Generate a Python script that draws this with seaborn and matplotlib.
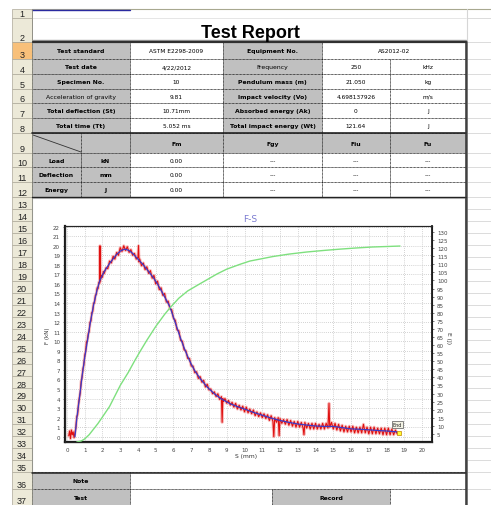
import numpy as np
import pandas as pd
import matplotlib
matplotlib.use("Agg")
import matplotlib.pyplot as plt
import seaborn as sns
from matplotlib.patches import Rectangle

# ---------------- data ----------------
# noisy measured force (red)
red_S = [0.10, 0.15, 0.20, 0.25, 0.30, 0.35, 0.40, 0.45, 0.50, 0.55, 0.60, 0.65, 0.70, 0.75, 0.80,
         0.85, 0.90, 0.95, 1.00, 1.05, 1.10, 1.15, 1.20, 1.25, 1.30, 1.35, 1.40, 1.45, 1.50, 1.55,
         1.60, 1.65, 1.70, 1.75, 1.80, 1.85, 1.86, 1.87, 1.95, 2.00, 2.05, 2.10, 2.20, 2.30, 2.40,
         2.50, 2.60, 2.70, 2.80, 2.90, 3.00, 3.10, 3.20, 3.30, 3.40, 3.50, 3.60, 3.70, 3.80, 3.90,
         4.00, 4.03, 4.06, 4.10, 4.20, 4.30, 4.40, 4.50, 4.60, 4.70, 4.80, 4.90, 5.00, 5.10, 5.20,
         5.30, 5.40, 5.50, 5.60, 5.70, 5.80, 5.90, 6.00, 6.10, 6.20, 6.30, 6.40, 6.50, 6.60, 6.70,
         6.80, 6.90, 7.00, 7.10, 7.20, 7.30, 7.40, 7.50, 7.60, 7.70, 7.80, 7.90, 8.00, 8.10, 8.20,
         8.30, 8.40, 8.50, 8.60, 8.70, 8.74, 8.78, 8.80, 8.90, 9.00, 9.10, 9.20, 9.30, 9.40, 9.50,
         9.60, 9.70, 9.80, 9.90, 10.00, 10.10, 10.20, 10.30, 10.40, 10.50, 10.60, 10.70, 10.80, 10.90,
         11.00, 11.10, 11.20, 11.30, 11.40, 11.50, 11.60, 11.65, 11.70, 11.80, 11.90, 11.95, 12.00,
         12.10, 12.20, 12.30, 12.40, 12.50, 12.60, 12.70, 12.80, 12.90, 13.00, 13.10, 13.20, 13.30,
         13.35, 13.40, 13.50, 13.60, 13.70, 13.80, 13.90, 14.00, 14.10, 14.20, 14.30, 14.40, 14.50,
         14.60, 14.70, 14.76, 14.80, 14.90, 15.00, 15.10, 15.20, 15.30, 15.40, 15.50, 15.60, 15.70,
         15.80, 15.90, 16.00, 16.10, 16.20, 16.30, 16.40, 16.50, 16.60, 16.70, 16.80, 16.90, 17.00,
         17.10, 17.20, 17.30, 17.40, 17.50, 17.60, 17.70, 17.80, 17.90, 18.00, 18.10, 18.20, 18.30,
         18.40, 18.50, 18.60]
red_F = [0.1, 0.6, -0.2, 0.7, 0.2, 0.5, -0.1, 0.4, 0.9, 2.1, 2.3, 3.4, 4.1, 4.6, 5.8,
         6.2, 7.1, 7.5, 8.5, 8.9, 9.9, 10.1, 10.8, 11.0, 12.0, 12.1, 13.0, 13.1, 14.0, 14.0,
         14.8, 14.9, 15.6, 15.5, 16.2, 16.1, 20.0, 16.3, 16.9, 16.7, 17.3, 17.1, 17.7, 17.6, 18.4,
         18.2, 18.9, 18.6, 19.3, 19.0, 19.8, 19.4, 20.0, 19.5, 19.9, 19.3, 19.6, 19.0, 19.2, 18.6,
         18.8, 20.0, 18.3, 18.6, 17.9, 18.2, 17.5, 17.8, 17.1, 17.4, 16.6, 16.9, 16.0, 16.3, 15.4,
         15.6, 14.8, 15.0, 14.1, 14.2, 13.4, 13.3, 12.4, 12.2, 11.2, 11.1, 10.1, 10.0, 9.1, 9.0,
         8.2, 8.2, 7.4, 7.4, 6.7, 6.8, 6.1, 6.3, 5.7, 5.9, 5.2, 5.5, 4.9, 5.0, 4.5,
         4.7, 4.2, 4.5, 3.9, 4.2, 1.5, 4.0, 3.7, 4.0, 3.5, 3.8, 3.3, 3.6, 3.1, 3.5,
         2.9, 3.3, 2.8, 3.2, 2.6, 3.1, 2.5, 2.9, 2.4, 2.8, 2.2, 2.6, 2.1, 2.5,
         2.0, 2.4, 1.9, 2.3, 1.7, 2.2, 1.6, 0.0, 2.0, 1.5, 2.0, 0.1, 1.9,
         1.4, 1.8, 1.3, 1.8, 1.2, 1.7, 1.1, 1.6, 1.0, 1.6, 1.0, 1.5, 0.9,
         0.2, 1.5, 0.9, 1.4, 0.8, 1.4, 0.8, 1.4, 0.8, 1.3, 0.8, 1.4, 0.8,
         1.4, 0.9, 3.5, 1.0, 1.5, 0.8, 1.4, 0.7, 1.3, 0.6, 1.2, 0.5, 1.1,
         0.5, 1.1, 0.5, 1.1, 0.4, 1.0, 0.4, 1.0, 0.4, 1.3, 0.4, 1.0, 0.3,
         1.0, 0.3, 1.0, 0.3, 0.9, 0.3, 0.9, 0.2, 0.9, 0.2, 0.9, 0.2, 0.8,
         0.2, 0.7, 0.3]

# smoothed force (blue)
blue_S = [0.45, 0.56, 0.70, 0.85, 1.00, 1.15, 1.30, 1.50, 1.70, 1.86, 2.10, 2.42, 2.80, 3.05, 3.27,
          3.50, 3.70, 4.00, 4.30, 4.60, 4.85, 5.10, 5.40, 5.60, 5.80, 6.00, 6.20, 6.40, 6.60, 6.80,
          7.00, 7.20, 7.50, 7.90, 8.30, 8.70, 9.20, 9.60, 10.0, 10.5, 11.0, 11.5, 12.0, 12.5, 13.0,
          13.5, 14.0, 14.5, 15.0, 15.5, 16.0, 16.5, 17.0, 17.5, 18.0, 18.3, 18.6]
blue_F = [0.0, 2.0, 4.0, 6.3, 8.3, 10.0, 11.8, 13.8, 15.4, 16.4, 17.3, 18.2, 19.1, 19.5, 19.65,
          19.5, 19.2, 18.6, 18.0, 17.3, 16.7, 16.0, 15.0, 14.3, 13.6, 12.5, 11.4, 10.3, 9.3, 8.4,
          7.6, 6.9, 6.1, 5.2, 4.5, 3.95, 3.45, 3.15, 2.9, 2.55, 2.25, 1.95, 1.7, 1.5, 1.33,
          1.22, 1.12, 1.08, 1.08, 0.95, 0.82, 0.78, 0.72, 0.65, 0.6, 0.55, 0.5]

# energy (green, right axis)
E_S = [0.55, 0.8, 1.0, 1.25, 1.5, 1.75, 2.0, 2.4, 2.7, 3.0, 3.45, 3.8, 4.1, 4.5, 5.0, 5.5, 5.8,
       6.3, 6.8, 7.5, 8.45, 9.0, 9.75, 10.3, 11.0, 11.6, 12.5, 13.5, 14.5, 15.4, 16.3, 17.2, 18.0, 18.76]
E_J = [0.0, 0.6, 1.9, 4.5, 8.0, 11.5, 15.5, 22.0, 28.5, 35.0, 43.0, 50.0, 55.7, 63.0, 71.5, 79.0, 83.0,
       89.0, 93.5, 98.0, 104.0, 107.0, 110.0, 112.0, 113.5, 114.8, 116.3, 117.6, 118.6, 119.4, 120.1,
       120.7, 121.0, 121.3]

end_point = (18.7, 0.42)

x_ticks = list(range(0, 21))
yl_ticks = list(range(0, 23))
yr_ticks = list(range(5, 131, 5))

# spreadsheet text
info_rows = [
    ["Test standard", "ASTM E2298-2009", "Equipment No.", "AS2012-02", None],
    ["Test date", "4/22/2012", "Frequency", "250", "kHz"],
    ["Specimen No.", "10", "Pendulum mass (m)", "21.050", "kg"],
    ["Acceleration of gravity", "9.81", "Impact velocity (Vo)", "4.698137926", "m/s"],
    ["Total deflection (St)", "10.71mm", "Absorbed energy (Ak)", "0", "J"],
    ["Total time (Tt)", "5.052 ms", "Total impact energy (Wt)", "121.64", "J"],
]
light_labels = {"Acceleration of gravity", "Frequency"}
result_header = ["Fm", "Fgy", "Fiu", "Fu"]
result_rows = [["Load", "kN", "0.00", "---", "---", "---"],
               ["Deflection", "mm", "0.00", "---", "---", "---"],
               ["Energy", "J", "0.00", "---", "---", "---"]]

# ---------------- figure ----------------
sns.set_style("white")
plt.rcParams['font.family'] = ['DejaVu Sans']

W, H = 491, 506
fig = plt.figure(figsize=(W / 100, H / 100), dpi=100)
fig.patch.set_facecolor("white")
bg = fig.add_axes([0, 0, 1, 1])
bg.set_xlim(0, W)
bg.set_ylim(H, 0)
bg.axis("off")

# row edges
edges = [10, 19, 43, 60, 75, 90, 104, 119, 134, 154, 168, 183, 198]
edges += [198 + i * 275 / 23 for i in range(1, 24)]
edges += [490, 506, 520]

HDR = "#ece9d8"
HDR_EDGE = "#aca899"
GRAY = "#c0c0c0"
DOT = (0, (1, 1))

# right-side empty cells gridlines
for e in edges[1:]:
    bg.plot([467, W], [e, e], color="#d6d6d6", lw=0.6, solid_capstyle="butt")
bg.plot([32, W], [10, 10], color="#a8a890", lw=0.8)
bg.plot([32, 130], [10.5, 10.5], color="#2a2aa0", lw=1.0)
bg.plot([32, 466], [19, 19], color="#e2e2e2", lw=0.6)
bg.plot([467, 467], [10, 43], color="#d6d6d6", lw=0.8)
bg.plot([467, 467], [43, H], color="#6a6a6a", lw=1.3)

# row headers
for i in range(len(edges) - 1):
    top, bot = edges[i], edges[i + 1]
    fc = "#f8c07a" if i == 2 else HDR
    bg.add_patch(Rectangle((12, top), 20, bot - top, fc=fc, ec=HDR_EDGE, lw=0.5))
    if i < 37:
        bg.text(22, bot - 1.8, str(i + 1), ha="center", va="baseline", fontsize=6.5,
                family="Liberation Sans", color="#222222")
bg.plot([32, 32], [10, H], color="#8a8a80", lw=0.6)

# title
bg.text(250, 33, "Test Report", ha="center", va="center", fontsize=13, fontweight="bold",
        family="Liberation Sans", color="black")
bg.plot([33, 466], [41.3, 41.3], color="#9a9a9a", lw=1.0)
bg.plot([33, 466], [42.8, 42.8], color="#303030", lw=1.6)


def cell(x0, x1, y0, y1, text=None, fill="white", bold=False, fs=4.2):
    bg.add_patch(Rectangle((x0, y0), x1 - x0, y1 - y0, fc=fill, ec="black", lw=0.5, ls=DOT))
    if text:
        bg.text((x0 + x1) / 2, (y0 + y1) / 2 + 0.3, text, ha="center", va="center", fontsize=fs,
                fontweight="bold" if bold else "normal", color="black")


# rows 3-8
for r, row in enumerate(info_rows):
    y0, y1 = edges[2 + r], edges[3 + r]
    lab1, val1, lab2, val2, unit = row
    cell(32, 130, y0, y1, lab1, GRAY, lab1 not in light_labels, 4.4)
    cell(130, 223, y0, y1, val1)
    cell(223, 322, y0, y1, lab2, GRAY, lab2 not in light_labels, 4.4)
    if unit is None:
        cell(322, 466, y0, y1, val2)
    else:
        cell(322, 390, y0, y1, val2)
        cell(390, 466, y0, y1, unit)

# row 9 header
y0, y1 = edges[8], edges[9]
cell(32, 81, y0, y1, None, GRAY)
cell(81, 130, y0, y1, None, GRAY)
for (a, b), t in zip([(130, 223), (223, 322), (322, 390), (390, 466)], result_header):
    cell(a, b, y0, y1, t, GRAY, True, 4.4)
bg.plot([33, 81], [136, 153], color="#333333", lw=0.6)

# rows 10-12
for r, row in enumerate(result_rows):
    y0, y1 = edges[9 + r], edges[10 + r]
    cell(32, 81, y0, y1, row[0], GRAY, True, 4.4)
    cell(81, 130, y0, y1, row[1], GRAY, True, 4.4)
    for (a, b), t in zip([(130, 223), (223, 322), (322, 390), (390, 466)], row[2:]):
        cell(a, b, y0, y1, t)

# chart area
bg.add_patch(Rectangle((32.5, 198.5), 432.5, 274, fc="white", ec="#c8c8c8", lw=0.8))

# rows 36-37
y0, y1 = edges[35], edges[36]
cell(32, 130, y0, y1, "Note", GRAY, True, 4.4)
cell(130, 466, y0, y1)
y0, y1 = edges[36], edges[37]
cell(32, 130, y0, y1, "Test", GRAY, True, 4.4)
cell(130, 272, y0, y1)
cell(272, 390, y0, y1, "Record", GRAY, True, 4.4)
cell(390, 466, y0, y1)

# solid borders
for yy, lw in [(134, 1.2), (198, 1.0), (473.5, 1.1)]:
    bg.plot([32, 466], [yy, yy], color="#222222", lw=lw)
bg.plot([466, 466], [43, H], color="#333333", lw=1.1)

# chart texts
bg.text(250, 220, "F-S", ha="center", va="center", fontsize=6.5, color="#7a7ad0")
bg.text(48, 336, "F (kN)", ha="center", va="center", rotation=90, fontsize=4, color="#333333")
bg.text(246, 457, "S (mm)", ha="center", va="center", fontsize=4.3, color="#333333")
bg.text(449, 338, "E (J)", ha="center", va="center", rotation=270, fontsize=4.3, color="#333333")

# ---------------- chart ----------------
L, R, T, B = 65, 432, 227, 443
ax = fig.add_axes([L / W, 1 - B / H, (R - L) / W, (B - T) / H])
ax.set_facecolor("white")

# pink halo + red trace + blue smoothed
sns.lineplot(x=red_S, y=red_F, ax=ax, color="#f07070", lw=2.2, alpha=0.45, sort=False,
             estimator=None, zorder=2)
sns.lineplot(x=red_S, y=red_F, ax=ax, color="#e01010", lw=0.8, sort=False, estimator=None, zorder=3)
sns.lineplot(x=blue_S, y=blue_F, ax=ax, color="#3a3ac8", lw=0.9, sort=False, estimator=None, zorder=4)
ax.set_xlim(-0.11, 20.56)
ax.set_ylim(-0.555, 22.07)
ax.set_xticks(x_ticks)
ax.set_yticks(yl_ticks)
ax.grid(True, color="#c4c4c4", ls=(0, (1, 1.5)), lw=0.6)
ax.set_axisbelow(True)
ax.set_xlabel("")
ax.set_ylabel("")
ax.tick_params(axis="both", labelsize=4, colors="#444444", length=1.5, width=0.5, pad=2)
for s in ["left", "bottom"]:
    ax.spines[s].set_linewidth(1.6)
    ax.spines[s].set_color("#1a1a1a")
for s in ["top", "right"]:
    ax.spines[s].set_linewidth(0.8)
    ax.spines[s].set_color("#333333")

ax2 = ax.twinx()
sns.lineplot(x=E_S, y=E_J, ax=ax2, color="#7ee07e", lw=1.0, sort=False, estimator=None)
ax2.set_ylim(0, 133.7)
ax2.set_yticks(yr_ticks)
ax2.set_ylabel("")
ax2.tick_params(axis="y", labelsize=4, colors="#444444", length=1.5, width=0.5, pad=2)
ax2.grid(False)
ax2.spines["right"].set_linewidth(1.3)
ax2.spines["right"].set_color("#1a1a1a")

# End marker and label
ax.plot([end_point[0]], [end_point[1]], marker="s", ms=3.2, mfc="#ffff30", mec="#c08000", mew=0.5,
        zorder=6, clip_on=False)
ax.text(18.62, 1.3, "End", fontsize=3.5, ha="center", va="center", color="#222222", zorder=7,
        bbox=dict(boxstyle="square,pad=0.25", fc="#f2f2e4", ec="#555555", lw=0.5))

fig.savefig("out.png", dpi=100, facecolor="white")
